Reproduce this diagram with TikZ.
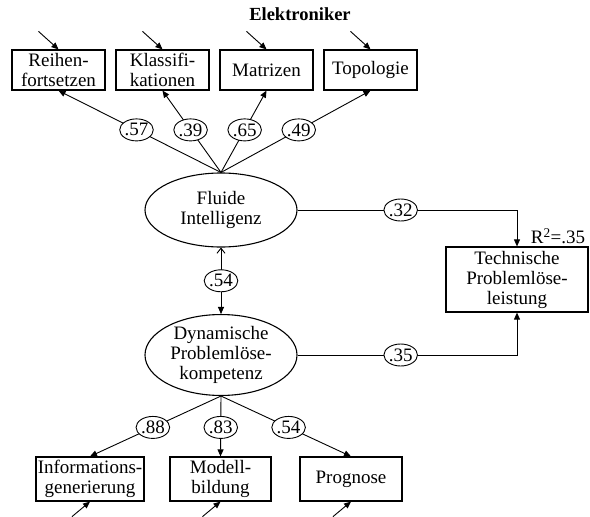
\documentclass[tikz,border=0pt]{standalone}
\usepackage{fontspec}
\setmainfont{Liberation Serif}
\usetikzlibrary{arrows.meta,shapes.geometric,calc}
\begin{document}
\begin{tikzpicture}[x=1pt,y=-1pt,
  every node/.style={font=\fontsize{19}{20}\selectfont},
  obs/.style={draw,line width=1.2pt,inner sep=0pt,align=center,minimum height=40pt},
  lat/.style={draw,line width=1.1pt,ellipse,inner sep=0pt,align=center,minimum width=152pt,minimum height=74pt},
  lbl/.style={draw,line width=0.9pt,ellipse,fill=white,inner sep=0pt,minimum width=33pt,minimum height=22pt},
  conn/.style={line width=0.9pt},
  arr/.style={conn,-{Triangle[length=7pt,width=6pt]}},
  err/.style={conn,-{Triangle[length=7pt,width=6pt]}}]
\useasboundingbox (0,0) rectangle (590,517);
\node[font=\fontsize{18.5}{20}\selectfont\bfseries] (title) at (300,14) {Elektroniker};
% top indicators
\node[obs,minimum width=93pt] (r) at (58.5,70) {Reihen-\\fortsetzen};
\node[obs,minimum width=93pt] (k) at (162.5,70) {Klassifi-\\kationen};
\node[obs,minimum width=93pt] (m) at (266.5,70) {Matrizen};
\node[obs,minimum width=93pt] (t) at (370.5,70) {Topologie};
% latent
\node[lat] (F) at (221,210) {Fluide\\Intelligenz};
\node[lat] (D) at (221,355) {Dynamische\\Problemlöse-\\kompetenz};
% criterion
\node[obs,minimum width=142pt,minimum height=65pt] (T) at (517,279.5) {Technische\\Problemlöse-\\leistung};
\node (R2) at (558,236) {R\textsuperscript{2}=.35};
% bottom indicators
\node[obs,minimum width=108pt,minimum height=44pt] (i) at (90,479) {Informations-\\generierung};
\node[obs,minimum width=101pt,minimum height=44pt] (mb) at (220.5,479) {Modell-\\bildung};
\node[obs,minimum width=102pt,minimum height=44pt] (p) at (351,479) {Prognose};
% error coordinates
\coordinate (er) at ($(r.north)+(-20,-18)$);
\coordinate (ek) at ($(k.north)+(-20,-18)$);
\coordinate (em) at ($(m.north)+(-20,-18)$);
\coordinate (et) at ($(t.north)+(-20,-18)$);
\coordinate (ei) at ($(i.south)+(-18,15)$);
\coordinate (emb) at ($(mb.south)+(-18,15)$);
\coordinate (ep) at ($(p.south)+(-18,15)$);
\draw[err] (er) -- (r.north);
\draw[err] (ek) -- (k.north);
\draw[err] (em) -- (m.north);
\draw[err] (et) -- (t.north);
\draw[err] (ei) -- (i.south);
\draw[err] (emb) -- (mb.south);
\draw[err] (ep) -- (p.south);
% loadings top
\draw[arr] (F.north) -- node[lbl,pos=0.52]{.57} (r.south);
\draw[arr] (F.north) -- node[lbl,pos=0.52]{.39} (k.south);
\draw[arr] (F.north) -- node[lbl,pos=0.52]{.65} (m.south);
\draw[arr] (F.north) -- node[lbl,pos=0.52]{.49} (t.south);
% correlation
\draw[conn,{Straight Barb[length=5pt,width=8pt]}-{Triangle[length=7pt,width=6pt]}] (F.south) -- node[lbl]{.54} (D.north);
% loadings bottom
\draw[arr] (D.south) -- node[lbl,pos=0.52]{.88} (i.north);
\draw[arr] (D.south) -- node[lbl,pos=0.52]{.83} (mb.north);
\draw[arr] (D.south) -- node[lbl,pos=0.52]{.54} (p.north);
% paths to criterion
\coordinate (c1) at (F.east -| T.north);
\coordinate (c2) at (D.east -| T.south);
\draw[arr] (F.east) -- node[lbl,pos=0.47]{.32} (c1) -- (T.north);
\draw[arr] (D.east) -- node[lbl,pos=0.47]{.35} (c2) -- (T.south);
\end{tikzpicture}
\end{document}
